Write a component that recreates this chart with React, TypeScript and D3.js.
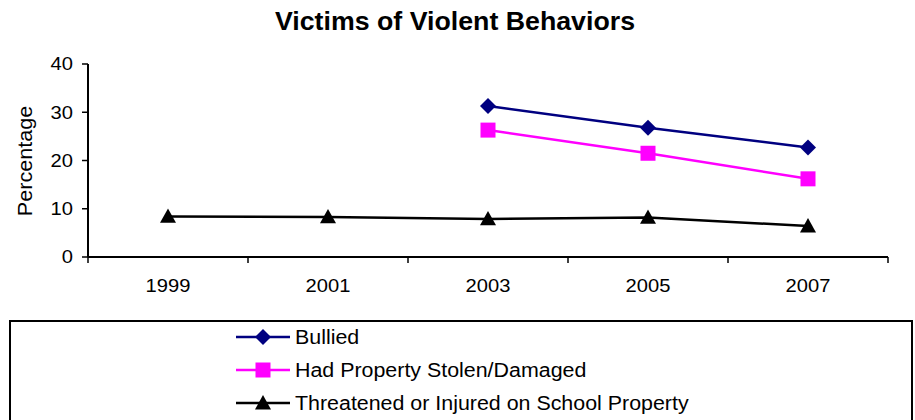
import React from "react";
import * as d3 from "d3";

const years = ["1999", "2001", "2003", "2005", "2007"];
const bullied: (number | null)[] = [null, null, 31.3, 26.8, 22.7];
const stolen: (number | null)[] = [null, null, 26.3, 21.5, 16.2];
const threatened: (number | null)[] = [8.4, 8.3, 7.9, 8.2, 6.4];
const yTicks = [0, 10, 20, 30, 40];
const seriesNames = ["Bullied", "Had Property Stolen/Damaged", "Threatened or Injured on School Property"];
const seriesColors = ["#000080", "#FF00FF", "#000000"];
const seriesShapes = ["diamond", "square", "triangle"];

const W = 915, H = 420;
const left = 88, right = 888, top = 64, bottom = 257;

function Marker({ shape, x, y, color }: { shape: string; x: number; y: number; color: string }) {
  if (shape === "diamond") {
    const s = 8;
    return <path d={`M${x},${y - s}L${x + s},${y}L${x},${y + s}L${x - s},${y}Z`} fill={color} />;
  }
  if (shape === "square") {
    const s = 7.5;
    return <rect x={x - s} y={y - s} width={2 * s} height={2 * s} fill={color} />;
  }
  const s = 8;
  return <path d={`M${x},${y - s}L${x + s},${y + s * 0.8}L${x - s},${y + s * 0.8}Z`} fill={color} />;
}

function T({ x, y, sx = 1, rot = 0, anchor = "start", size, weight, dy, children }: any) {
  return (
    <g transform={`translate(${x},${y}) rotate(${rot}) scale(${sx},1)`}>
      <text textAnchor={anchor} fontSize={size} fontWeight={weight} dy={dy}>{children}</text>
    </g>
  );
}

export default function App() {
  const x = d3.scaleBand<string>().domain(years).range([left, right]);
  const y = d3.scaleLinear().domain([0, 40]).range([bottom, top]);
  const cx = (yr: string) => (x(yr) as number) + x.bandwidth() / 2;
  const data = [bullied, stolen, threatened];
  const font = "Liberation Sans, Arial, sans-serif";
  const boundaries = d3.range(years.length + 1).map((i) => left + i * x.bandwidth());

  return (
    <svg width={W} height={H} style={{ position: "absolute", left: 0, top: 0 }} fontFamily={font}>
      <rect width={W} height={H} fill="#fff" />
      <T x={455} y={30} sx={1.07} anchor="middle" size={25} weight="bold">Victims of Violent Behaviors</T>
      {/* y axis */}
      <line x1={left} x2={left} y1={top} y2={bottom} stroke="#000" strokeWidth={2} />
      {yTicks.map((t) => (
        <g key={t}>
          <line x1={left - 6} x2={left} y1={y(t)} y2={y(t)} stroke="#000" strokeWidth={1.5} />
          <T x={left - 15} y={y(t)} sx={1.12} anchor="end" size={18} dy="0.36em">{t}</T>
        </g>
      ))}
      <T x={32} y={161} rot={-90} sx={1.08} anchor="middle" size={20}>Percentage</T>
      {/* x axis */}
      <line x1={left} x2={right} y1={bottom} y2={bottom} stroke="#000" strokeWidth={2} />
      {boundaries.map((b, i) => (
        <line key={i} x1={b} x2={b} y1={bottom} y2={bottom + 6} stroke="#000" strokeWidth={1.5} />
      ))}
      {years.map((yr) => (
        <T key={yr} x={cx(yr)} y={bottom + 35} sx={1.12} anchor="middle" size={18}>{yr}</T>
      ))}
      {/* series */}
      {data.map((vals, si) => {
        const pts = years.map((yr, i) => ({ yr, v: vals[i] })).filter((p) => p.v !== null) as { yr: string; v: number }[];
        const line = d3.line<{ yr: string; v: number }>().x((p) => cx(p.yr)).y((p) => y(p.v));
        return (
          <g key={si}>
            <path d={line(pts) || ""} fill="none" stroke={seriesColors[si]} strokeWidth={2.5} />
            {pts.map((p) => (
              <Marker key={p.yr} shape={seriesShapes[si]} x={cx(p.yr)} y={y(p.v)} color={seriesColors[si]} />
            ))}
          </g>
        );
      })}
      {/* legend */}
      <rect x={10} y={321} width={902} height={110} fill="#fff" stroke="#000" strokeWidth={2} />
      {seriesNames.map((name, i) => {
        const ly = 337 + i * 33;
        return (
          <g key={name}>
            <line x1={236} x2={290} y1={ly} y2={ly} stroke={seriesColors[i]} strokeWidth={2.5} />
            <Marker shape={seriesShapes[i]} x={263} y={ly} color={seriesColors[i]} />
            <T x={295} y={ly} sx={1.07} size={20} dy="0.36em">{name}</T>
          </g>
        );
      })}
    </svg>
  );
}
